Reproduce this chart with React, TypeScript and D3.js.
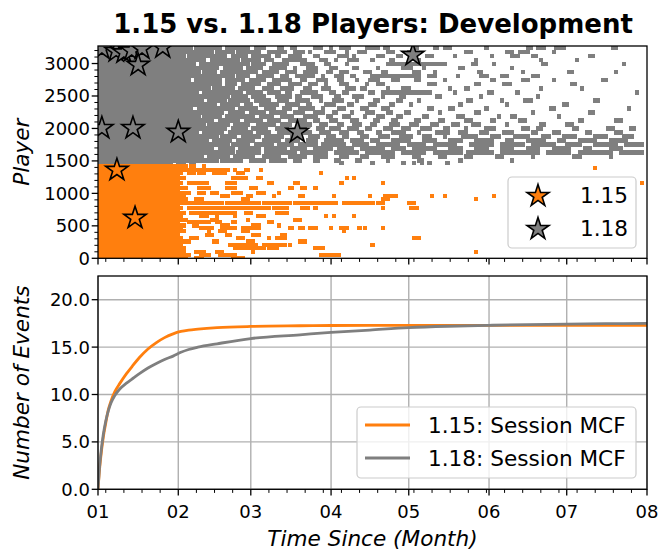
import React from 'react';
import * as d3 from 'd3';

// ---------- data ----------
const YEAR = 2021;
const monthLabels = ['01', '02', '03', '04', '05', '06', '07', '08'];
const playerTicks = [0, 500, 1000, 1500, 2000, 2500, 3000];
const eventTicks = [0, 5, 10, 15, 20];
const seriesNames = ['1.15', '1.18'];
const mcfNames = ['1.15: Session MCF', '1.18: Session MCF'];

// dense blocks: [playerLo, playerHi, dayLo, dayHi]
const orangeDense = [[-40, 1450, 0, 31]];
const grayDense = [[1450, 3320, 0, 28]];

// event rows: [player, [[dayStart, dayEnd], ...]]
const grayRows: [number, number[][]][] = [
  [3240, [[28, 36], [38, 47], [50, 58], [61, 64], [70, 71], [75, 76], [84, 86], [90, 90], [94, 97], [104, 108], [111, 112], [122, 123], [130, 131], [134, 136], [150, 150], [166, 167], [170, 172], [177, 180], [199, 200]]],
  [3178, [[28, 44], [46, 52], [54, 62], [66, 72], [76, 79], [82, 82], [88, 91], [96, 96], [101, 103], [112, 114], [120, 121], [142, 144], [158, 160], [163, 166], [176, 176]]],
  [3116, [[28, 33], [35, 49], [52, 57], [60, 66], [69, 70], [74, 78], [84, 85], [93, 96], [99, 99], [108, 110], [116, 117], [127, 129], [138, 138], [152, 152], [160, 162], [168, 169], [190, 191]]],
  [3054, [[28, 41], [44, 54], [56, 62], [65, 67], [72, 80], [86, 88], [92, 92], [97, 100], [106, 106], [113, 114], [124, 124], [146, 146], [171, 171], [185, 185]]],
  [2992, [[28, 37], [40, 58], [60, 64], [68, 73], [79, 83], [88, 89], [96, 96], [112, 134], [145, 146], [153, 153], [172, 173], [203, 203]]],
  [2930, [[28, 46], [49, 55], [58, 63], [67, 72], [76, 76], [81, 84], [90, 92], [99, 100], [108, 108], [118, 121], [126, 126], [140, 141], [160, 160]]],
  [2868, [[28, 39], [41, 45], [48, 61], [64, 69], [73, 76], [80, 84], [89, 90], [94, 96], [103, 105], [110, 111], [122, 124], [130, 130], [147, 148], [164, 164], [182, 183], [200, 200]]],
  [2806, [[28, 52], [54, 58], [62, 67], [71, 73], [77, 83], [87, 87], [92, 94], [98, 99], [106, 124], [128, 130], [139, 139], [148, 150], [156, 158], [168, 170]]],
  [2744, [[28, 35], [38, 47], [50, 56], [59, 64], [68, 74], [79, 80], [85, 88], [93, 94], [100, 100], [105, 108], [114, 116], [123, 124], [134, 134], [152, 153], [164, 166], [176, 176], [195, 196]]],
  [2682, [[28, 47], [50, 53], [56, 62], [66, 70], [74, 78], [82, 84], [88, 88], [94, 96], [104, 104], [108, 110], [128, 130], [146, 147], [157, 159], [183, 184]]],
  [2620, [[28, 43], [45, 52], [55, 60], [64, 67], [71, 75], [80, 82], [87, 89], [96, 99], [102, 103], [112, 112], [118, 120], [136, 136], [142, 143], [171, 171], [187, 187]]],
  [2558, [[28, 38], [41, 55], [58, 63], [66, 70], [73, 74], [79, 84], [90, 91], [95, 96], [105, 106], [110, 128], [138, 138], [151, 152], [162, 162], [208, 208]]],
  [2496, [[28, 50], [52, 57], [60, 64], [69, 74], [77, 78], [83, 86], [92, 93], [99, 102], [110, 110], [117, 118], [131, 132], [148, 148], [170, 170]]],
  [2434, [[28, 40], [43, 49], [51, 58], [61, 66], [70, 73], [77, 81], [86, 86], [91, 94], [100, 100], [107, 108], [116, 117], [124, 124], [143, 144], [156, 156], [165, 167], [192, 193]]],
  [2372, [[28, 45], [48, 54], [57, 59], [63, 69], [73, 77], [81, 82], [88, 91], [97, 98], [105, 107], [113, 114], [121, 121], [140, 140], [158, 158], [180, 181]]],
  [2310, [[28, 36], [39, 52], [55, 61], [65, 68], [72, 74], [78, 83], [87, 87], [93, 95], [102, 104], [110, 112], [128, 129], [136, 137], [150, 150], [175, 176], [205, 205]]],
  [2248, [[28, 48], [51, 56], [59, 64], [67, 72], [76, 79], [84, 87], [91, 92], [98, 98], [104, 106], [112, 113], [119, 120], [132, 132], [146, 147], [168, 168], [190, 191]]],
  [2186, [[28, 39], [41, 47], [50, 60], [63, 67], [71, 75], [80, 84], [89, 90], [95, 97], [103, 103], [108, 110], [116, 117], [126, 127], [139, 141], [155, 155], [160, 161], [178, 178]]],
  [2124, [[28, 44], [47, 54], [57, 63], [66, 70], [74, 80], [84, 85], [90, 92], [98, 100], [107, 108], [114, 115], [123, 124], [132, 133], [142, 144], [152, 153], [163, 165], [186, 187], [200, 202]]],
  [2062, [[28, 41], [43, 50], [53, 58], [62, 68], [71, 74], [78, 82], [86, 88], [93, 94], [99, 101], [106, 107], [113, 116], [121, 123], [129, 131], [137, 139], [145, 147], [158, 158], [171, 172], [181, 183]]],
  [2000, [[28, 49], [52, 57], [60, 65], [69, 73], [77, 80], [85, 87], [90, 93], [97, 100], [104, 105], [111, 113], [118, 120], [125, 128], [134, 135], [142, 142], [150, 153], [164, 166], [170, 171], [184, 185], [197, 199], [206, 207]]],
  [1938, [[28, 38], [41, 48], [51, 59], [62, 66], [70, 76], [80, 82], [86, 89], [94, 96], [101, 102], [108, 109], [114, 118], [124, 124], [131, 135], [140, 142], [148, 150], [157, 160], [168, 169], [176, 178], [189, 190], [200, 202]]],
  [1876, [[28, 46], [48, 53], [56, 62], [65, 71], [75, 78], [82, 85], [89, 91], [95, 96], [102, 104], [109, 112], [117, 121], [126, 128], [134, 134], [141, 146], [152, 155], [161, 166], [172, 174], [180, 184], [192, 196], [203, 206]]],
  [1814, [[28, 42], [45, 51], [54, 60], [64, 70], [73, 77], [81, 84], [88, 94], [98, 102], [106, 108], [114, 120], [126, 130], [136, 140], [146, 152], [158, 160], [166, 172], [178, 180], [186, 192], [198, 204]]],
  [1752, [[28, 50], [52, 58], [61, 67], [70, 75], [78, 84], [87, 95], [99, 104], [108, 116], [120, 126], [130, 138], [144, 152], [156, 164], [168, 176], [181, 186], [192, 200], [204, 210]]],
  [1690, [[28, 44], [47, 52], [55, 62], [65, 72], [75, 80], [84, 90], [93, 98], [102, 110], [114, 118], [122, 130], [136, 140], [146, 150], [156, 160], [166, 170], [176, 182], [188, 190], [198, 202]]],
  [1628, [[28, 52], [54, 62], [65, 76], [79, 88], [92, 100], [104, 114], [118, 126], [130, 140], [143, 152], [156, 170], [174, 182], [186, 198], [202, 210]]],
  [1566, [[28, 40], [43, 50], [53, 60], [64, 70], [74, 80], [84, 88], [94, 96], [102, 104], [110, 114], [122, 124], [132, 134], [142, 144], [154, 156], [168, 168], [184, 186], [198, 198]]],
  [1504, [[28, 46], [48, 55], [59, 64], [67, 72], [76, 78], [84, 85], [92, 93], [100, 101], [112, 112], [124, 125], [140, 140], [160, 160]]],
  [1470, [[31, 33], [36, 37], [94, 94], [106, 106], [118, 118], [122, 122], [125, 125], [128, 128], [135, 135]]],
];

const orangeRows: [number, number[][]][] = [
  [1421, [[31, 34], [36, 37], [41, 41]]],
  [1389, [[192, 192]]],
  [1360, [[31, 35], [36, 50], [53, 53], [57, 58], [63, 63]]],
  [1314, [[31, 32], [35, 37], [39, 41], [45, 49], [54, 56], [86, 86]]],
  [1237, [[31, 33], [52, 57], [62, 63], [96, 96], [99, 99]]],
  [1160, [[31, 32], [35, 42], [50, 53], [66, 67], [76, 77], [94, 94], [110, 110], [210, 210]]],
  [1083, [[31, 34], [39, 43], [50, 53], [59, 61], [74, 75], [79, 80], [84, 84]]],
  [1006, [[31, 35], [39, 41], [44, 46], [52, 55], [62, 64], [70, 70]]],
  [960, [[31, 33], [48, 50], [58, 59], [68, 68], [78, 79], [91, 91], [105, 105], [111, 115], [129, 129], [134, 134], [153, 153]]],
  [913, [[31, 34], [38, 40], [56, 58], [110, 112], [146, 146]]],
  [852, [[31, 48], [50, 62], [64, 74], [76, 86], [86, 92], [95, 102], [103, 106], [108, 110], [120, 122]]],
  [775, [[31, 32], [35, 66], [68, 73], [79, 81], [84, 84], [110, 110], [121, 123]]],
  [698, [[31, 33], [36, 53], [57, 59], [69, 73]]],
  [651, [[31, 32], [40, 42], [46, 46], [53, 53], [62, 64], [88, 88], [91, 91], [99, 99]]],
  [590, [[31, 34], [44, 46], [58, 58], [76, 78]]],
  [559, [[31, 31], [35, 43], [46, 47], [52, 53], [66, 67]]],
  [505, [[31, 33], [37, 38], [48, 50], [60, 62], [70, 70]]],
  [467, [[31, 32], [40, 44], [48, 53], [56, 62], [74, 75], [78, 79], [82, 84], [90, 90], [94, 96], [101, 101], [103, 103], [110, 110]]],
  [420, [[31, 33], [43, 43], [47, 49], [56, 58], [95, 95]]],
  [359, [[31, 31], [42, 44], [50, 51], [60, 62], [71, 72]]],
  [312, [[31, 32], [36, 38], [54, 56], [66, 66], [69, 72], [122, 124]]],
  [260, [[31, 35], [45, 46], [58, 60], [78, 80]]],
  [205, [[31, 32], [51, 61], [64, 72], [74, 74], [106, 106]]],
  [159, [[31, 33], [53, 64], [66, 69], [84, 87]]],
  [97, [[31, 33], [38, 41], [46, 48], [60, 60], [146, 146]]],
  [51, [[31, 35], [40, 43], [47, 53], [86, 93]]],
  [0, [[31, 34], [38, 40], [52, 56]]],
];

// stars: [day, player]
const orangeStars = [[7.3, 1360], [14.3, 621]];
const grayStars = [
  [1.5, 3230], [7, 3190], [10, 3170], [13, 3200], [17, 3230], [25, 3250],
  [15.5, 2977], [1.5, 2005], [13.5, 2005], [31, 1945], [77, 1945], [121.6, 3131],
];

// MCF curves
const mcfDays = [0, 0.5, 1, 2, 3, 4, 5, 6.5, 8.5, 11, 13, 16, 19.3, 22.7, 25.7, 29, 32, 35, 38.6, 46, 59, 78, 90, 105, 120, 135, 151, 166, 181, 196, 212];
const mcfOrange = [0, 1.8, 3.2, 5.4, 7.0, 8.4, 9.3, 10.3, 11.2, 12.2, 12.9, 13.9, 14.8, 15.5, 16.0, 16.4, 16.65, 16.8, 16.9, 17.05, 17.18, 17.25, 17.28, 17.3, 17.3, 17.3, 17.3, 17.3, 17.3, 17.3, 17.3];
const mcfGray = [0, 2.0, 3.5, 5.7, 7.2, 8.3, 9.1, 9.9, 10.6, 11.2, 11.6, 12.2, 12.8, 13.3, 13.7, 14.05, 14.45, 14.75, 15.0, 15.35, 15.9, 16.3, 16.55, 16.8, 17.05, 17.2, 17.3, 17.38, 17.43, 17.47, 17.5];

// ---------- styles ----------
const ORANGE = '#ff7f0e';
const GRAY = '#7f7f7f';
const FONT = 'DejaVu Sans, sans-serif';

export default function App() {
  const W = 659, H = 550;
  const L = 98, R = 647;
  const T1 = 46, B1 = 258.3, T2 = 276, B2 = 489.3;
  const t0 = Date.UTC(YEAR, 0, 1);
  const dayToDate = (d: number) => new Date(t0 + d * 86400000);
  const monthDates = monthLabels.map((_, i) => new Date(Date.UTC(YEAR, i, 1)));
  const x = d3.scaleUtc().domain([monthDates[0], monthDates[7]]).range([L, R]);
  const xd = (d: number) => x(dayToDate(d));
  const y1 = d3.scaleLinear().domain([0, 3270]).range([B1, T1]);
  const y2 = d3.scaleLinear().domain([0, 22.5]).range([B2, T2]);
  const weekDates = d3.utcMonday.range(monthDates[0], monthDates[7]).filter((d) => d.getUTCDate() !== 1);
  const minorPlayers = d3.range(100, 3270, 100).filter((v) => v % 500 !== 0);
  const star = d3.symbol().type(d3.symbolStar).size(155)() as string;
  const starLegend = d3.symbol().type(d3.symbolStar).size(150)() as string;
  const HS = 2.1;
  const HV = 2.3;

  const line = d3
    .line<number>()
    .x((_, i) => xd(mcfDays[i]))
    .y((v) => y2(v))
    .curve(d3.curveMonotoneX);

  const rowsRects = (rows: [number, number[][]][], color: string, key: string) =>
    rows.flatMap(([p, runs], ri) =>
      runs.map(([a, b], j) => (
        <rect
          key={`${key}-${ri}-${j}`}
          x={xd(a) - HS}
          y={y1(p) - HV}
          width={xd(b) - xd(a) + 2 * HS}
          height={2 * HV}
          fill={color}
        />
      ))
    );

  const denseRects = (blocks: number[][], color: string, key: string) =>
    blocks.map(([pl, ph, a, b], i) => (
      <rect
        key={`${key}-${i}`}
        x={xd(a) - HS}
        y={y1(ph)}
        width={xd(b) - xd(a) + 2 * HS}
        height={y1(pl) - y1(ph)}
        fill={color}
      />
    ));

  const tickMajor = 6.3;
  const tickMinor = 3.6;
  const axisW = 1.3;

  return (
    <svg width={W} height={H} style={{ position: 'absolute', left: 0, top: 0, background: '#fff' }} fontFamily={FONT}>
      <defs>
        <clipPath id="clipTop">
          <rect x={L} y={T1} width={R - L} height={B1 - T1} />
        </clipPath>
        <clipPath id="clipBot">
          <rect x={L} y={T2} width={R - L} height={B2 - T2} />
        </clipPath>
      </defs>
      <rect x={0} y={0} width={W} height={H} fill="#fff" />

      {/* Title */}
      <text x={373} y={33} textAnchor="middle" fontSize={26} fontWeight="bold" fill="#000">
        1.15 vs. 1.18 Players: Development
      </text>

      {/* ---------- TOP PANEL ---------- */}
      <g clipPath="url(#clipTop)" shapeRendering="crispEdges">
        {denseRects(grayDense, GRAY, 'gd')}
        {rowsRects(grayRows, GRAY, 'gr')}
        {denseRects(orangeDense, ORANGE, 'od')}
        {rowsRects(orangeRows, ORANGE, 'or')}
      </g>
      <g clipPath="url(#clipTop)">
        {grayStars.map(([d, p], i) => (
          <path key={`gs${i}`} d={star} transform={`translate(${xd(d)},${y1(p)})`} fill={GRAY} stroke="#000" strokeWidth={1.6} />
        ))}
        {orangeStars.map(([d, p], i) => (
          <path key={`os${i}`} d={star} transform={`translate(${xd(d)},${y1(p)})`} fill={ORANGE} stroke="#000" strokeWidth={1.6} />
        ))}
      </g>
      {/* top legend */}
      <g>
        <rect x={508} y={177} width={128} height={71} rx={4} fill="#fff" fillOpacity={0.8} stroke="#cccccc" strokeWidth={1.2} />
        {[ORANGE, GRAY].map((c, i) => (
          <g key={`tl${i}`}>
            <path d={starLegend} transform={`translate(538,${196 + i * 33})`} fill={c} stroke="#000" strokeWidth={1.6} />
            <text x={580} y={203 + i * 32.5} fontSize={21.6} fill="#000">
              {seriesNames[i]}
            </text>
          </g>
        ))}
      </g>
      {/* top frame */}
      <rect x={L} y={T1} width={R - L} height={B1 - T1} fill="none" stroke="#000" strokeWidth={axisW} />
      {/* top y ticks */}
      {playerTicks.map((v) => (
        <g key={`py${v}`}>
          <line x1={L - tickMajor} x2={L} y1={y1(v)} y2={y1(v)} stroke="#000" strokeWidth={1.3} />
          <text x={L - 8} y={y1(v) + 6.5} textAnchor="end" fontSize={18} fill="#000">
            {v}
          </text>
        </g>
      ))}
      {minorPlayers.map((v) => (
        <line key={`pm${v}`} x1={L - tickMinor} x2={L} y1={y1(v)} y2={y1(v)} stroke="#000" strokeWidth={1} />
      ))}
      {/* top x ticks (no labels) */}
      {monthDates.map((d, i) => (
        <line key={`tx${i}`} x1={x(d)} x2={x(d)} y1={B1} y2={B1 + tickMajor} stroke="#000" strokeWidth={1.3} />
      ))}
      {weekDates.map((d, i) => (
        <line key={`txm${i}`} x1={x(d)} x2={x(d)} y1={B1} y2={B1 + tickMinor} stroke="#000" strokeWidth={1} />
      ))}
      <text transform={`translate(29,${(T1 + B1) / 2}) rotate(-90)`} textAnchor="middle" fontSize={21.6} fontStyle="italic" fill="#000">
        Player
      </text>

      {/* ---------- BOTTOM PANEL ---------- */}
      <g>
        {monthDates.map((d, i) => (
          <line key={`gx${i}`} x1={x(d)} x2={x(d)} y1={T2} y2={B2} stroke="#b0b0b0" strokeWidth={1.4} />
        ))}
        {eventTicks.map((v) => (
          <line key={`gy${v}`} x1={L} x2={R} y1={y2(v)} y2={y2(v)} stroke="#b0b0b0" strokeWidth={1.4} />
        ))}
      </g>
      <g clipPath="url(#clipBot)">
        <path d={line(mcfOrange) as string} fill="none" stroke={ORANGE} strokeWidth={2.8} />
        <path d={line(mcfGray) as string} fill="none" stroke={GRAY} strokeWidth={2.8} />
      </g>
      {/* bottom legend */}
      <g>
        <rect x={357} y={407} width={279} height={71} rx={4} fill="#fff" fillOpacity={0.8} stroke="#cccccc" strokeWidth={1.2} />
        {[ORANGE, GRAY].map((c, i) => (
          <g key={`bl${i}`}>
            <line x1={365} x2={410} y1={425 + i * 33} y2={425 + i * 33} stroke={c} strokeWidth={2.8} />
            <text x={428} y={433 + i * 32.5} fontSize={21.6} fill="#000">
              {mcfNames[i]}
            </text>
          </g>
        ))}
      </g>
      <rect x={L} y={T2} width={R - L} height={B2 - T2} fill="none" stroke="#000" strokeWidth={axisW} />
      {eventTicks.map((v) => (
        <g key={`ey${v}`}>
          <line x1={L - tickMajor} x2={L} y1={y2(v)} y2={y2(v)} stroke="#000" strokeWidth={1.3} />
          <text x={L - 8} y={y2(v) + 6.5} textAnchor="end" fontSize={18} fill="#000">
            {v.toFixed(1)}
          </text>
        </g>
      ))}
      {monthDates.map((d, i) => (
        <g key={`bx${i}`}>
          <line x1={x(d)} x2={x(d)} y1={B2} y2={B2 + tickMajor} stroke="#000" strokeWidth={1.3} />
          <text x={x(d)} y={518} textAnchor="middle" fontSize={18} fill="#000">
            {monthLabels[i]}
          </text>
        </g>
      ))}
      {weekDates.map((d, i) => (
        <line key={`bxm${i}`} x1={x(d)} x2={x(d)} y1={B2} y2={B2 + tickMinor} stroke="#000" strokeWidth={1} />
      ))}
      <text transform={`translate(29,${(T2 + B2) / 2}) rotate(-90)`} textAnchor="middle" fontSize={21.6} fontStyle="italic" fill="#000">
        Number of Events
      </text>
      <text x={(L + R) / 2} y={546} textAnchor="middle" fontSize={21.6} fontStyle="italic" fill="#000">
        Time Since (Month)
      </text>
    </svg>
  );
}
